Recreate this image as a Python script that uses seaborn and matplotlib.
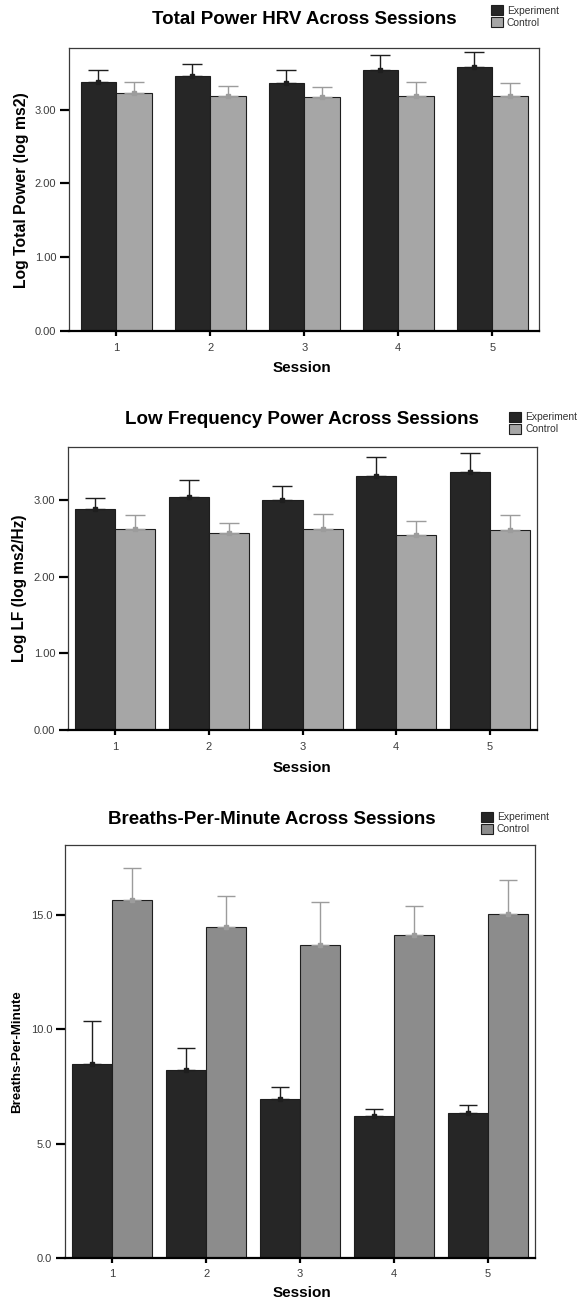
import numpy as np
import pandas as pd
import matplotlib
matplotlib.use("Agg")
import matplotlib.pyplot as plt
import seaborn as sns

# ---------------- data ----------------
sessions = ["1", "2", "3", "4", "5"]
groups = ["Experiment", "Control"]

tp_exp = [3.38, 3.46, 3.36, 3.53, 3.58]
tp_exp_err = [0.15, 0.16, 0.17, 0.21, 0.20]
tp_ctl = [3.23, 3.19, 3.17, 3.19, 3.18]
tp_ctl_err = [0.14, 0.13, 0.14, 0.19, 0.18]

lf_exp = [2.88, 3.04, 3.00, 3.31, 3.37]
lf_exp_err = [0.15, 0.22, 0.18, 0.25, 0.24]
lf_ctl = [2.62, 2.57, 2.62, 2.54, 2.61]
lf_ctl_err = [0.18, 0.13, 0.20, 0.19, 0.19]

bpm_exp = [8.47, 8.23, 6.94, 6.20, 6.35]
bpm_exp_err = [1.89, 0.95, 0.53, 0.33, 0.34]
bpm_ctl = [15.67, 14.49, 13.70, 14.15, 15.06]
bpm_ctl_err = [1.39, 1.36, 1.90, 1.25, 1.48]

titles = ["Total Power HRV Across Sessions",
          "Low Frequency Power Across Sessions",
          "Breaths-Per-Minute Across Sessions"]
ylabels = ["Log Total Power (log ms2)", "Log LF (log ms2/Hz)", "Breaths-Per-Minute"]
xlabel = "Session"
yticks_list = [[0, 1, 2, 3], [0, 1, 2, 3], [0, 5, 10, 15]]
ytick_fmt = ["{:.2f}", "{:.2f}", "{:.1f}"]

# ---------------- style ----------------
sns.set_theme(style="white")
plt.rcParams["font.family"] = ["Liberation Sans", "DejaVu Sans"]
plt.rcParams["text.color"] = "black"
plt.rcParams["axes.labelcolor"] = "black"

W, H = 582, 1302
fig = plt.figure(figsize=(W / 100, H / 100), dpi=100)

EXP_C = "#262626"
panels = [
    dict(exp=tp_exp, exp_err=tp_exp_err, ctl=tp_ctl, ctl_err=tp_ctl_err,
         ctl_color="#a6a6a6", rect=(69.3, 48.3, 539.3, 331.0), ymax=3.83, width=0.76,
         title_xy=(304, 19), legend_xy=(490.7, 5), ylab_x=21.7, ylab_size=11.3,
         xlab_y=368.3, cap=7.5),
    dict(exp=lf_exp, exp_err=lf_exp_err, ctl=lf_ctl, ctl_err=lf_ctl_err,
         ctl_color="#a6a6a6", rect=(68.3, 447.3, 536.7, 730.0), ymax=3.69, width=0.855,
         title_xy=(302, 419.3), legend_xy=(509.3, 411.7), ylab_x=20.0, ylab_size=11.2,
         xlab_y=768.3, cap=7.5),
    dict(exp=bpm_exp, exp_err=bpm_exp_err, ctl=bpm_ctl, ctl_err=bpm_ctl_err,
         ctl_color="#8c8c8c", rect=(65.3, 845.0, 535.0, 1257.7), ymax=18.08, width=0.855,
         title_xy=(272, 819), legend_xy=(480.7, 811.7), ylab_x=16.7, ylab_size=9.6,
         xlab_y=1292.7, cap=6.8),
]

for i, p in enumerate(panels):
    x0, y0, x1, y1 = p["rect"]
    ax = fig.add_axes([x0 / W, 1 - y1 / H, (x1 - x0) / W, (y1 - y0) / H])

    df = pd.DataFrame({
        "Session": sessions * 2,
        "Group": [groups[0]] * 5 + [groups[1]] * 5,
        "Value": list(p["exp"]) + list(p["ctl"]),
        "Err": list(p["exp_err"]) + list(p["ctl_err"]),
    })
    sns.barplot(data=df, x="Session", y="Value", hue="Group", hue_order=groups,
                order=sessions, palette=[EXP_C, p["ctl_color"]], width=p["width"],
                errorbar=None, edgecolor="#1e1e1e", linewidth=0.8, saturation=1,
                ax=ax)

    bar_conts = list(ax.containers)[:2]
    err_colors = ["#1e1e1e", "#9c9c9c"]
    for k, cont in enumerate(bar_conts):
        g = groups[k]
        sub = df[df["Group"] == g]
        xs = [b.get_x() + b.get_width() / 2 for b in cont]
        ys = [b.get_height() for b in cont]
        errs = sub["Err"].to_numpy()
        ax.errorbar(xs, ys, yerr=[np.zeros_like(errs), errs], fmt="s",
                    ms=3.2, color=err_colors[k], ecolor=err_colors[k],
                    elinewidth=1.0, capsize=p["cap"], capthick=1.0, zorder=5)

    ax.set_xlim(-0.5, 4.5)
    ax.set_ylim(0, p["ymax"])
    ax.set_yticks(yticks_list[i])
    ax.set_yticklabels([ytick_fmt[i].format(v) for v in yticks_list[i]])

    for s in ["top", "right", "left"]:
        ax.spines[s].set_visible(True)
        ax.spines[s].set_color("#3a3a3a")
        ax.spines[s].set_linewidth(0.9)
    ax.spines["bottom"].set_color("black")
    ax.spines["bottom"].set_linewidth(1.6)

    ax.tick_params(axis="x", direction="out", length=3.8, width=1.6, color="black",
                   labelsize=8, labelcolor="#3c3c3c", pad=4.5, bottom=True)
    ax.tick_params(axis="y", direction="out", length=6.5, width=1.6, color="black",
                   labelsize=8, labelcolor="#3c3c3c", pad=3, left=True)

    ax.set_xlabel(xlabel, fontsize=11, fontweight="bold", va="center")
    ax.xaxis.set_label_coords(0.5 - ((x0 + x1) / 2 - 302) / (x1 - x0),
                              -(p["xlab_y"] - y1) / (y1 - y0))
    ax.set_ylabel(ylabels[i], fontsize=p["ylab_size"], fontweight="bold",
                  va="center", ha="center")
    ax.yaxis.set_label_coords((p["ylab_x"] - x0) / (x1 - x0), 0.5)

    tx, ty = p["title_xy"]
    fig.text(tx / W, 1 - ty / H, titles[i], fontsize=13.5, fontweight="bold",
             ha="center", va="center", color="black")

    lx, ly = p["legend_xy"]
    sns.move_legend(ax, loc="upper left", bbox_to_anchor=(lx / W, 1 - ly / H),
                    bbox_transform=fig.transFigure, frameon=False, title=None,
                    fontsize=7.4, handlelength=1.15, handleheight=1.15,
                    labelspacing=0.15, handletextpad=0.4, borderpad=0,
                    borderaxespad=0)
    for t in ax.get_legend().get_texts():
        t.set_color("#333333")

fig.savefig("out.png", dpi=100)
